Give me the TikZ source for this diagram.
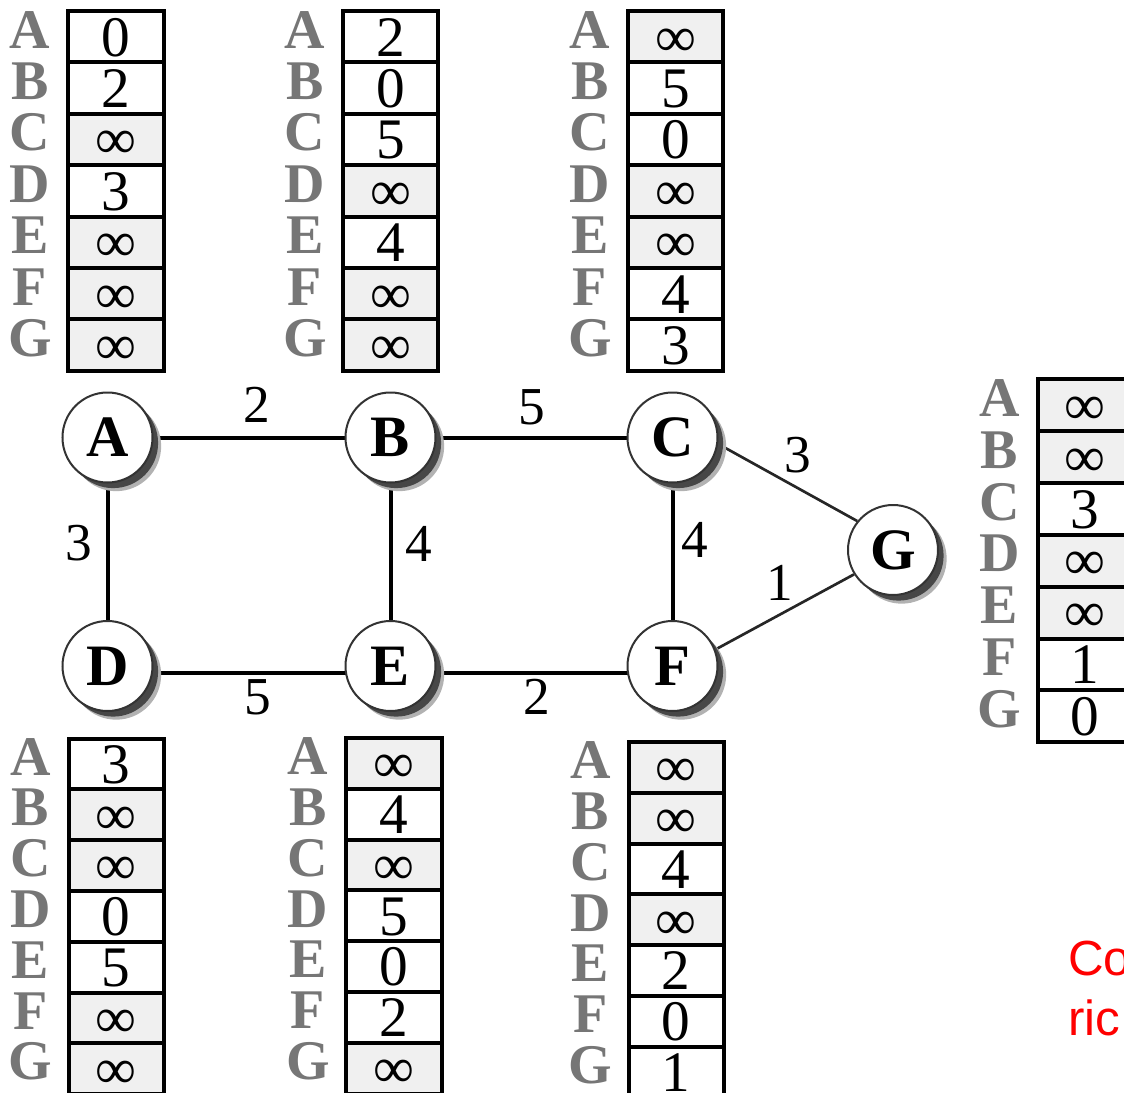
\documentclass[tikz,border=0pt]{standalone}
\usepackage{fontspec}
\setmainfont{Liberation Serif}
\newfontfamily\notefont{Liberation Sans}
\usetikzlibrary{shadows}
\definecolor{cellgray}{RGB}{240,240,240}
\definecolor{lblgray}{RGB}{118,118,118}
\definecolor{notered}{RGB}{255,0,0}
\pgfdeclarelayer{bg}
\pgfsetlayers{bg,main}
\tikzset{
  cellbox/.style={draw=black, line width=3pt, inner sep=0pt, outer sep=0pt,
    font=\fontsize{43}{43}\selectfont, text=black, text height=29pt, text depth=0pt},
  rowlbl/.style={inner sep=0pt, text=lblgray, font=\fontsize{42}{42}\selectfont\bfseries},
  gnode/.style={circle, draw=black!80, line width=1.5pt, fill=white,
    minimum size=67.5pt, inner sep=0pt, font=\fontsize{44}{44}\selectfont\bfseries,
    general shadow={shadow xshift=6.5pt, shadow yshift=-6.5pt, fill=black!30},
    general shadow={shadow xshift=4.2pt, shadow yshift=-4.2pt, fill=black!72}},
  edge/.style={line width=3pt, black},
  thinedge/.style={line width=2pt, black!85},
  elbl/.style={inner sep=0pt, font=\fontsize{40}{40}\selectfont},
  notetxt/.style={inner sep=0pt, text=notered, font=\notefont\fontsize{37}{37}\selectfont}
}
\newcommand{\dvtab}[6]{%
  \foreach \val/\fc/\ltr [count=\i] in {#6} {
    \node[cellbox, fill=\fc, minimum width={#4*0.75pt}, minimum height={#5*0.75pt},
      anchor=north west] (#1\ltr) at (#2,{#3+(\i-1)*#5}) {\val};
    \node[rowlbl] (#1l\ltr) at ({#2-38},{#3+(\i-0.5)*#5-7}) {\ltr};
  }%
}
\begin{document}
\begin{tikzpicture}[x=0.75pt, y=-0.75pt]
\useasboundingbox (0,0) rectangle (1124,1092);

% tables
\dvtab{ta}{68}{11}{96}{51.4}{0/white/A,2/white/B,∞/cellgray/C,3/white/D,∞/cellgray/E,∞/cellgray/F,∞/cellgray/G}
\dvtab{tb}{343}{11}{95}{51.4}{2/white/A,0/white/B,5/white/C,∞/cellgray/D,4/white/E,∞/cellgray/F,∞/cellgray/G}
\dvtab{tc}{628}{11}{95}{51.4}{∞/cellgray/A,5/white/B,0/white/C,∞/cellgray/D,∞/cellgray/E,4/white/F,3/white/G}
\dvtab{tg}{1037.5}{379}{95}{51.9}{∞/cellgray/A,∞/cellgray/B,3/white/C,∞/cellgray/D,∞/cellgray/E,1/white/F,0/white/G}
\dvtab{td}{68.5}{738.5}{95}{50.8}{3/white/A,∞/cellgray/B,∞/cellgray/C,0/white/D,5/white/E,∞/cellgray/F,∞/cellgray/G}
\dvtab{te}{346}{738}{95.5}{50.8}{∞/cellgray/A,4/white/B,∞/cellgray/C,5/white/D,0/white/E,2/white/F,∞/cellgray/G}
\dvtab{tf}{628.5}{742}{95}{50.8}{∞/cellgray/A,∞/cellgray/B,4/white/C,∞/cellgray/D,2/white/E,0/white/F,1/white/G}

% graph nodes
\node[gnode] (A) at (107.5,437.5) {A};
\node[gnode] (B) at (390.5,437.5) {B};
\node[gnode] (C) at (672.5,437.5) {C};
\node[gnode] (G) at (893,550) {G};
\node[gnode] (D) at (107.5,666) {D};
\node[gnode] (E) at (390.5,666) {E};
\node[gnode] (F) at (672.5,666) {F};

% edges
\begin{pgfonlayer}{bg}
\draw[edge] (A) -- (B);
\draw[edge] (B) -- (C);
\draw[edge] (A) -- (D);
\draw[edge] (B) -- (E);
\draw[edge] (C) -- (F);
\draw[edge] ([yshift=-5.25pt]D.center) -- ([yshift=-5.25pt]E.center);
\draw[edge] ([yshift=-5.25pt]E.center) -- ([yshift=-5.25pt]F.center);
\draw[thinedge] (C.-8) -- (G.141);
\draw[thinedge] (F.21) -- (G.212);
\end{pgfonlayer}

% edge labels
\node[elbl] (lab) at (256.5,405) {2};
\node[elbl] (lbc) at (532,407.5) {5};
\node[elbl] (lad) at (78.5,543.5) {3};
\node[elbl] (lbe) at (418.5,543.5) {4};
\node[elbl] (lcf) at (695,540) {4};
\node[elbl] (lcg) at (798,455) {3};
\node[elbl] (lfg) at (780,583) {1};
\node[elbl] (lde) at (258,697) {5};
\node[elbl] (lef) at (536.5,697) {2};

% note (cut off at the right edge)
\node[notetxt, anchor=base west] (n1) at (1068,975) {Co};
\node[notetxt, anchor=base west] (n2) at (1068,1035) {ric};
\end{tikzpicture}
\end{document}
